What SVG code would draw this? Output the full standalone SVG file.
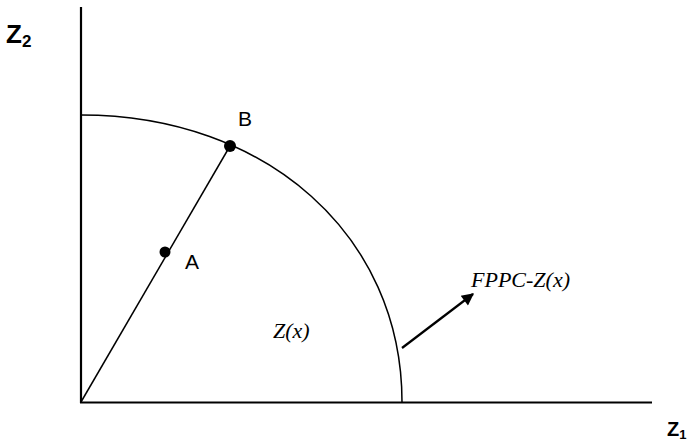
<svg xmlns="http://www.w3.org/2000/svg" width="690" height="441" viewBox="0 0 690 441">
<style>
.axis{stroke:#000;stroke-width:2.2;fill:none}
.ln{stroke:#000;stroke-width:1.5;fill:none}
.sans{font-family:"Liberation Sans",Arial,sans-serif;fill:#000}
.serif{font-family:"Liberation Serif","Times New Roman",serif;font-style:italic;fill:#000}
</style>
<defs>
<marker id="ah" viewBox="0 0 10 10" refX="9" refY="5" markerWidth="6.5" markerHeight="5.5" orient="auto" markerUnits="strokeWidth">
<path d="M0,0 L10,5 L0,10 Z" fill="#000"/>
</marker>
</defs>
<rect width="690" height="441" fill="#fff"/>
<g id="connectors">
<line class="axis" x1="81" y1="7" x2="81" y2="403"/>
<line class="axis" x1="80" y1="402.5" x2="652" y2="402.5"/>
<path id="fppc" class="ln" d="M81,115 C267,115 402,236 402,402"/>
<line class="ln" x1="81" y1="402" x2="230" y2="146"/>
<line stroke="#000" stroke-width="2.2" x1="402" y1="348" x2="473" y2="294" marker-end="url(#ah)"/>
</g>
<g id="pointA"><circle cx="165" cy="252" r="5.5" fill="#000"/><text class="sans" x="185" y="269" font-size="21">A</text></g>
<g id="pointB"><circle cx="230" cy="146" r="6" fill="#000"/><text class="sans" x="238" y="126" font-size="21">B</text></g>
<g id="labelZ2"><text class="sans" x="6" y="43" font-size="26" font-weight="bold">Z<tspan font-size="17" dy="4">2</tspan></text></g>
<g id="labelZ1"><text class="sans" x="667" y="436" font-size="20" font-weight="bold">Z<tspan font-size="13" dy="3">1</tspan></text></g>
<g id="labelZx"><text class="serif" x="273" y="338" font-size="22">Z(x)</text></g>
<g id="labelFPPC"><text class="serif" x="471" y="287" font-size="22">FPPC-Z(x)</text></g>
</svg>
